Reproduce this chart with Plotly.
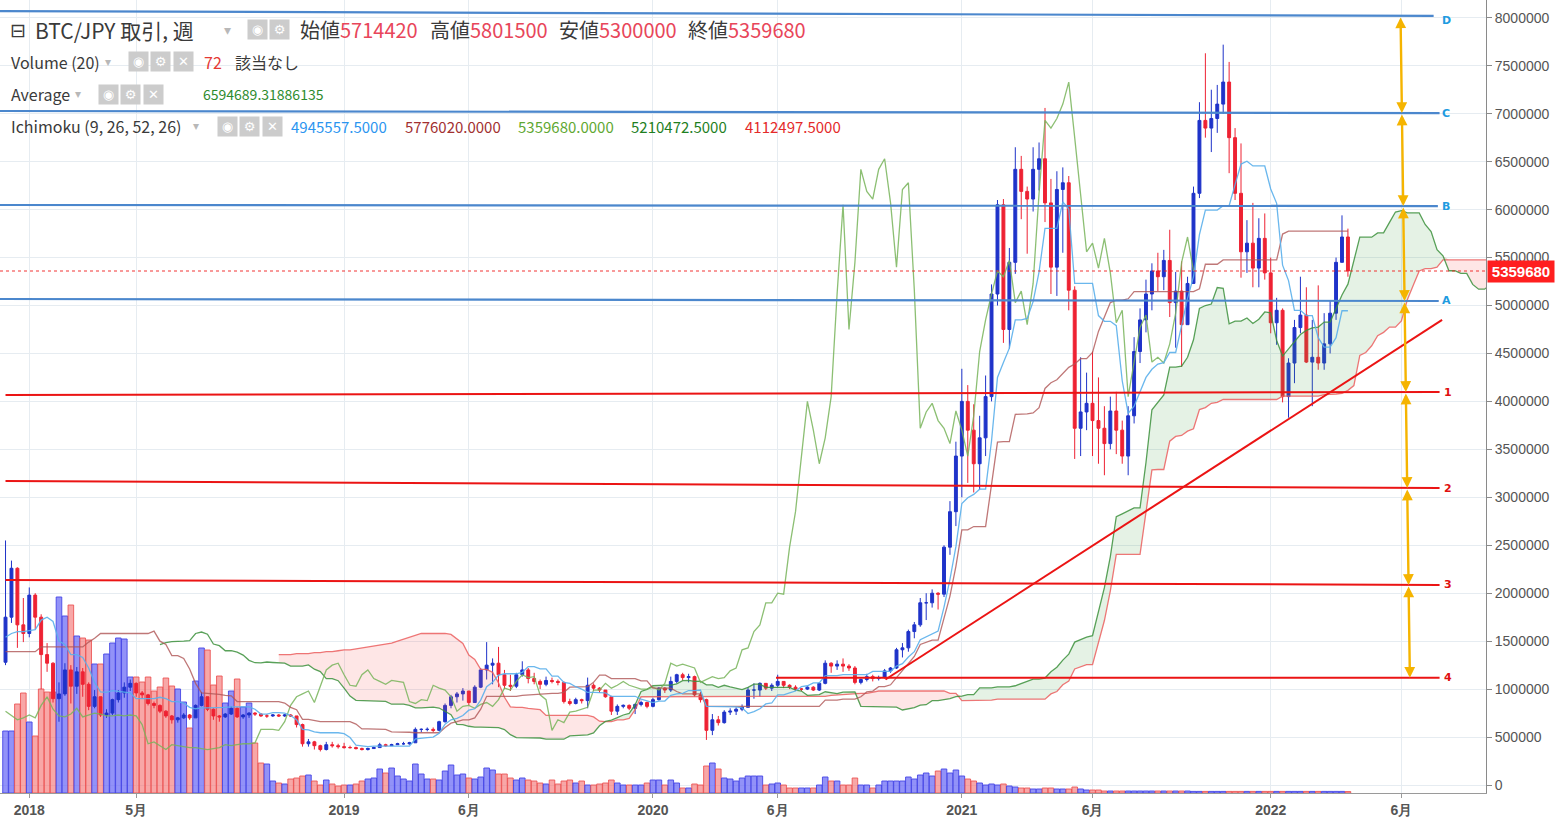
import numpy as np
import pandas as pd
import plotly.graph_objects as go

MAN = 10000  # price lists below are in 万円

# weekly BTC/JPY candles, first bar = week of 2017-12-04
first_week = "2017-12-04"
first_open = 128
close = [
    175, 226, 167, 158, 198, 175, 136, 127, 90, 95,
    120, 103, 118, 105, 82, 92, 73, 75, 89, 96,
    102, 106, 96, 94, 85, 83, 77, 72, 68, 70,
    73, 70, 83, 92, 79, 72, 71, 74, 80, 71,
    73, 75, 74, 72, 72, 73, 72, 73, 72, 63,
    43, 45, 41, 37, 42, 41, 40, 39, 39, 38,
    37, 38, 39, 42, 41, 42, 43, 43, 44, 58,
    58, 58, 57, 66, 83, 92, 95, 98, 86, 102,
    120, 125, 127, 115, 104, 103, 115, 120, 111, 108,
    105, 109, 108, 107, 87, 85, 89, 88, 104, 101,
    99, 92, 77, 82, 83, 80, 84, 86, 82, 89,
    101, 99, 108, 115, 112, 113, 94, 89, 57, 68,
    65, 76, 77, 79, 81, 99, 99, 106, 101, 104,
    108, 104, 102, 100, 100, 102, 99, 106, 127, 124,
    126, 124, 122, 107, 110, 113, 111, 112, 119, 122,
    141, 143, 160, 167, 190, 190, 200, 199, 248, 285,
    343, 400, 370, 335, 362, 405, 512, 605, 475, 545,
    642, 619, 611, 642, 653, 607, 540, 621, 628, 516,
    372, 389, 398, 380, 372, 356, 390, 370, 343, 385,
    452, 485, 512, 536, 530, 547, 503, 515, 480, 523,
    617, 693, 685, 695, 710, 733, 675, 617, 556, 565,
    539, 570, 534, 482, 495, 405, 440, 477, 490, 441,
    446, 440, 460, 492, 545, 571.442, 535.968,
]
high = [
    255, 234, 227, 195, 206, 200, 178, 148, 128, 107,
    127, 125, 123, 122, 107, 99, 92, 79, 90, 99,
    107, 110, 107, 98, 95, 87, 84, 78, 73, 71,
    75, 74, 84, 97, 92, 80, 73, 75, 82, 81,
    74, 76, 76, 75, 74, 74, 74, 74, 74, 72,
    64, 48, 46, 42, 45, 45, 43, 44, 41, 40,
    39, 39, 40, 44, 43, 43, 44, 45, 45, 60,
    59, 60, 60, 67, 85, 94, 97, 101, 97, 104,
    122, 149, 132, 144, 120, 115, 117, 129, 122, 117,
    110, 113, 112, 110, 108, 90, 91, 90, 112, 106,
    102, 99, 93, 84, 84, 84, 85, 88, 87, 91,
    102, 102, 113, 116, 117, 116, 114, 97, 90, 74,
    72, 78, 80, 81, 84, 102, 106, 107, 106, 106,
    115, 108, 105, 104, 101, 103, 103, 107, 130, 128,
    130, 132, 126, 124, 111, 116, 115, 114, 121, 123,
    143, 148, 162, 170, 195, 200, 204, 201, 250, 296,
    358, 434, 417, 397, 385, 427, 522, 610, 611, 560,
    665, 656, 624, 665, 670, 706, 632, 640, 644, 635,
    520, 446, 430, 452, 425, 395, 405, 410, 380, 395,
    467, 497, 527, 544, 555, 558, 579, 535, 546, 530,
    624, 712, 763, 725, 730, 772, 754, 685, 669, 589,
    607, 591, 596, 550, 508, 497, 445, 485, 530, 519,
    485, 521, 492, 505, 550, 594, 580.15,
]
low = [
    125, 169, 143, 149, 154, 162, 100, 118, 86, 66,
    93, 85, 95, 92, 78, 80, 71, 70, 73, 86,
    91, 98, 92, 90, 83, 80, 75, 70, 64, 65,
    69, 68, 70, 82, 77, 68, 66, 70, 73, 70,
    69, 70, 72, 71, 70, 71, 71, 71, 71, 60,
    40, 40, 37, 35, 36, 39, 38, 38, 38, 37,
    36, 36, 38, 39, 40, 41, 42, 42, 42, 44,
    55, 56, 55, 56, 65, 80, 86, 88, 83, 86,
    101, 110, 105, 102, 100, 98, 101, 113, 106, 105,
    100, 103, 106, 104, 85, 83, 84, 85, 80, 98,
    96, 91, 73, 73, 80, 78, 74, 82, 80, 81,
    88, 96, 97, 106, 109, 107, 92, 86, 47, 52,
    62, 64, 73, 73, 77, 81, 90, 92, 99, 98,
    102, 101, 100, 98, 98, 99, 98, 98, 105, 117,
    120, 118, 119, 105, 105, 108, 108, 109, 111, 117,
    121, 133, 139, 153, 165, 172, 185, 183, 196, 240,
    270, 300, 315, 305, 308, 343, 400, 500, 461, 455,
    533, 590, 554, 598, 620, 587, 512, 510, 555, 495,
    340, 343, 370, 343, 335, 323, 350, 345, 335, 323,
    377, 440, 472, 495, 515, 516, 488, 456, 436, 480,
    523, 612, 675, 660, 680, 700, 638, 610, 529, 534,
    519, 519, 527, 471, 459, 399, 383, 419, 471, 440,
    395, 433, 433, 450, 485, 545, 530,
]
volume = [
    3100, 3100, 4450, 5000, 3550, 2850, 5200, 5050, 5050, 9800,
    8850, 9400, 7850, 7750, 7650, 6450, 6450, 6950, 7500, 7750,
    7700, 5800, 5800, 5550, 5800, 5100, 5300, 5750, 5350, 5200,
    4550, 3250, 5600, 7250, 7150, 5400, 5850, 4500, 5100, 5700,
    4300, 4500, 2500, 1500, 1450, 600, 500, 450, 700, 750,
    850, 900, 600, 400, 650, 450, 350, 400, 400, 450,
    600, 700, 750, 1200, 1000, 1250, 850, 700, 600, 1450,
    950, 700, 700, 650, 1100, 1400, 900, 950, 750, 700,
    800, 1250, 1150, 950, 950, 750, 650, 750, 650, 600,
    500, 450, 650, 450, 600, 650, 500, 600, 400, 400,
    450, 500, 650, 500, 400, 400, 400, 400, 500, 650,
    650, 400, 650, 500, 250, 250, 450, 400, 1350, 1500,
    1200, 750, 700, 600, 750, 850, 850, 850, 400, 450,
    500, 400, 250, 250, 250, 250, 250, 400, 800, 600,
    600, 400, 400, 750, 400, 400, 250, 400, 600, 600,
    600, 600, 800, 700, 900, 1000, 850, 1100, 1200, 1000,
    1150, 850, 700, 600, 500, 400, 450, 400, 450, 350,
    300, 250, 250, 200, 200, 250, 250, 200, 200, 200,
    300, 200, 150, 150, 150, 100, 100, 100, 100, 100,
    100, 100, 100, 100, 100, 100, 100, 100, 100, 100,
    80, 80, 80, 80, 80, 80, 80, 80, 80, 80,
    80, 80, 80, 80, 80, 80, 80, 80, 80, 80,
    80, 80, 80, 80, 80, 80, 72,
]

# Ichimoku lines for the first weeks (their history lies before the first bar)
tenkan_early = [154, 158, 160, 160, 161, 162, 172, 175]
kijun_early = [139, 139, 139, 139, 139, 139, 144, 144, 144, 144, 144, 144, 144, 144,
               149, 153, 158, 158, 158, 158, 158, 158, 158, 158, 158]
senkou_b_early_start = 46
senkou_b_early = [136, 136, 136, 137, 137, 137, 138, 138, 139, 139, 140, 141, 141, 142,
                  143, 144, 145, 146, 147, 148, 150, 152, 154, 156, 158, 158, 158, 158,
                  158, 157, 152]

tick_dates = ["2018-01-01", "2018-05-07", "2019-01-07", "2019-06-03", "2020-01-06",
              "2020-06-01", "2021-01-04", "2021-06-07", "2022-01-03", "2022-06-06"]
tick_text = ["2018", "5月", "2019", "6月", "2020", "6月", "2021", "6月", "2022", "6月"]
price_ticks = list(range(0, 8000001, 500000))

# hand-drawn levels
blue_names = ["A", "B", "C", "D"]
blue_left = [5068000, 6048000, 7028000, 8070000]
blue_right = [5047000, 6037000, 7007000, 8020000]
blue_from = "2017-11-27"
blue_to = ["2022-07-20", "2022-07-19", "2022-07-21", "2022-07-14"]

red_names = ["1", "2", "3", "4"]
red_left = [4067000, 3170000, 2138000, 1118000]
red_right = [4098000, 3097000, 2086000, 1118000]
red_from = ["2017-12-04", "2017-12-04", "2017-12-04", "2020-05-30"]
red_to = "2022-07-21"

trend_dates = ["2020-10-06", "2022-07-24"]
trend_values = [1100000, 4850000]

measure_dates = ["2022-06-05", "2022-06-16"]   # top and bottom of the yellow ruler
label_date = "2022-07-29"

header_pairs = [("始値", "5714420"), ("高値", "5801500"), ("安値", "5300000"), ("終値", "5359680")]
volume_text = "72"
average_text = "6594689.31886135"
ichimoku_text = ["4945557.5000", "5776020.0000", "5359680.0000", "5210472.5000", "4112497.5000"]

# ---------------------------------------------------------------
n = len(close)
if not (len(high) == len(low) == len(volume) == n):
    raise ValueError("length mismatch %d %d %d %d" % (n, len(high), len(low), len(volume)))

dates = pd.date_range(first_week, periods=n, freq="7D")
lead_dates = pd.date_range(first_week, periods=n + 26, freq="7D")

c = np.array(close, float) * MAN
o = np.array([first_open] + close[:-1], float) * MAN
h = np.maximum(np.array(high, float) * MAN, np.maximum(o, c))
l = np.minimum(np.array(low, float) * MAN, np.minimum(o, c))
up = c >= o

H = pd.Series(h)
L = pd.Series(l)
tenkan = ((H.rolling(9).max() + L.rolling(9).min()) / 2).values
kijun = ((H.rolling(26).max() + L.rolling(26).min()) / 2).values
mid52 = ((H.rolling(52).max() + L.rolling(52).min()) / 2).values
tenkan[:len(tenkan_early)] = np.array(tenkan_early) * MAN
kijun[:len(kijun_early)] = np.array(kijun_early) * MAN

span_a = np.full(n + 26, np.nan)
span_b = np.full(n + 26, np.nan)
span_a[26:] = (tenkan + kijun) / 2
span_b[26:] = mid52
s0 = senkou_b_early_start
span_b[s0:s0 + len(senkou_b_early)] = np.array(senkou_b_early) * MAN

BLUE_C = "#1f33c9"
RED_C = "#ee2233"

fig = go.Figure()

fig.add_trace(go.Bar(
    x=dates, y=volume, yaxis="y",
    marker=dict(color=np.where(up, "rgba(110,110,245,0.75)", "rgba(245,120,120,0.65)"),
                line=dict(color=np.where(up, "rgba(70,70,230,0.9)", "rgba(235,80,80,0.85)"), width=1)),
    hoverinfo="skip"))

# cloud
both = ~np.isnan(span_a) & ~np.isnan(span_b)
cd = lead_dates[both]
ca = span_a[both]
cb = span_b[both]
fig.add_trace(go.Scatter(x=cd, y=cb, yaxis="y2", mode="lines", line=dict(width=0), hoverinfo="skip"))
fig.add_trace(go.Scatter(x=cd, y=np.where(ca > cb, ca, cb), yaxis="y2", mode="lines",
                         line=dict(width=0), fill="tonexty", fillcolor="rgba(70,160,70,0.14)",
                         hoverinfo="skip"))
fig.add_trace(go.Scatter(x=cd, y=ca, yaxis="y2", mode="lines", line=dict(width=0), hoverinfo="skip"))
fig.add_trace(go.Scatter(x=cd, y=np.where(cb > ca, cb, ca), yaxis="y2", mode="lines",
                         line=dict(width=0), fill="tonexty", fillcolor="rgba(245,90,90,0.15)",
                         hoverinfo="skip"))

fig.add_trace(go.Scatter(x=lead_dates, y=span_b, yaxis="y2", mode="lines",
                         line=dict(color="rgba(235,95,95,0.85)", width=1.3), hoverinfo="skip"))
fig.add_trace(go.Scatter(x=lead_dates, y=span_a, yaxis="y2", mode="lines",
                         line=dict(color="rgba(60,145,60,0.85)", width=1.3), hoverinfo="skip"))
fig.add_trace(go.Scatter(x=dates[:n - 26], y=c[26:], yaxis="y2", mode="lines",
                         line=dict(color="rgba(120,180,90,0.85)", width=1.3), hoverinfo="skip"))
fig.add_trace(go.Scatter(x=dates, y=kijun, yaxis="y2", mode="lines",
                         line=dict(color="rgba(175,85,85,0.8)", width=1.3), hoverinfo="skip"))
fig.add_trace(go.Scatter(x=dates, y=tenkan, yaxis="y2", mode="lines",
                         line=dict(color="rgba(90,175,235,0.9)", width=1.3), hoverinfo="skip"))

fig.add_trace(go.Candlestick(
    x=dates, open=o, high=h, low=l, close=c, yaxis="y2",
    increasing=dict(line=dict(color=BLUE_C, width=1), fillcolor=BLUE_C),
    decreasing=dict(line=dict(color=RED_C, width=1), fillcolor=RED_C),
    hoverinfo="skip"))

# drawn levels
for name, v0, v1, end in zip(blue_names, blue_left, blue_right, blue_to):
    fig.add_trace(go.Scatter(x=[blue_from, end], y=[v0, v1], yaxis="y2", mode="lines",
                             line=dict(color="rgb(75,135,205)", width=2.2), hoverinfo="skip"))
for name, v0, v1, start in zip(red_names, red_left, red_right, red_from):
    fig.add_trace(go.Scatter(x=[start, red_to], y=[v0, v1], yaxis="y2", mode="lines",
                             line=dict(color="rgb(235,20,20)", width=2), hoverinfo="skip"))
fig.add_trace(go.Scatter(x=trend_dates, y=trend_values, yaxis="y2", mode="lines",
                         line=dict(color="rgb(235,20,20)", width=2), hoverinfo="skip"))

annotations = []

# yellow ruler between the levels
stops = sorted(blue_right + red_right, reverse=True)
t_top = pd.Timestamp(measure_dates[0])
t_bot = pd.Timestamp(measure_dates[1])


def ruler_x(v):
    f = (stops[0] - v) / (stops[0] - stops[-1])
    return (t_top + (t_bot - t_top) * f).strftime("%Y-%m-%d %H:%M")


for v_hi, v_lo in zip(stops[:-1], stops[1:]):
    annotations.append(dict(x=ruler_x(v_lo), y=v_lo, ax=ruler_x(v_hi), ay=v_hi,
                            xref="x", yref="y2", axref="x", ayref="y2", text="",
                            showarrow=True, arrowhead=2, arrowside="end+start",
                            arrowsize=0.9, arrowwidth=2.4, arrowcolor="#f5b400"))

for name, v in zip(blue_names, blue_right):
    annotations.append(dict(x=label_date, y=v, xref="x", yref="y2", text="<b>%s</b>" % name,
                            showarrow=False, yshift=-5 if name == "D" else 0,
                            font=dict(size=11, color="#1e9be0", family="DejaVu Sans")))
for name, v in zip(red_names, red_right):
    annotations.append(dict(x=label_date, y=v, xref="x", yref="y2", text="<b>%s</b>" % name,
                            showarrow=False, xshift=2,
                            font=dict(size=11, color="#e01010", family="DejaVu Sans")))

# last price tag
last = c[-1]
annotations.append(dict(x=1, y=last, xref="paper", yref="y2", xanchor="left", yanchor="middle",
                        text="<b>%d</b>" % round(last), showarrow=False, bgcolor="#ff1f1f",
                        font=dict(size=15, color="white", family="Liberation Sans"),
                        width=64, height=19, xshift=1))

# header legend
PW, PH = 1486.0, 793.0
FONT = "Noto Sans CJK JP, sans-serif"
DARK = "#3a3a3a"


def head(px, py, text, size, color=DARK, family=FONT, **kw):
    d = dict(x=px / PW, y=1 - py / PH, xref="paper", yref="paper", xanchor="left",
             yanchor="middle", text=text, showarrow=False,
             font=dict(size=size, color=color, family=family))
    d.update(kw)
    annotations.append(d)


def icons(xs, py):
    for px, glyph in xs:
        head(px, py, glyph, 13, color="white", family="DejaVu Sans", bgcolor="#cccccc",
             width=17, height=17)


head(8, 30, "⊟", 19, family="DejaVu Sans")
head(33, 30, "BTC/JPY 取引, 週", 21)
head(222, 30, "▾", 14, color="#b8b8b8", family="DejaVu Sans")
icons([(247, "◉"), (269, "⚙")], 30)
for (lab, val), px in zip(header_pairs, [298, 428, 557, 686]):
    head(px, 30, lab + '<span style="color:#e8465a">' + val + "</span>", 20)

head(9, 62, "Volume (20)", 16)
head(103, 62, "▾", 12, color="#b8b8b8", family="DejaVu Sans")
icons([(128, "◉"), (150, "⚙"), (173, "✕")], 62)
head(202, 62, volume_text, 16, color="#e53935")
head(233, 62, "該当なし", 16)

head(9, 94, "Average", 16)
head(73, 94, "▾", 12, color="#b8b8b8", family="DejaVu Sans")
icons([(98, "◉"), (120, "⚙"), (143, "✕")], 94)
head(201, 94, average_text, 14, color="#2e8b2e")

head(9, 126, "Ichimoku (9, 26, 52, 26)", 16)
head(191, 126, "▾", 12, color="#b8b8b8", family="DejaVu Sans")
icons([(217, "◉"), (239, "⚙"), (262, "✕")], 126)
ichi_colors = ["#2b95f0", "#a23030", "#5fa832", "#1f7f1f", "#e42a2a"]
for txt, col, px in zip(ichimoku_text, ichi_colors, [289, 403, 516, 629, 743]):
    head(px, 126, txt, 15, color=col)

GRID = "#e6ecf1"
fig.update_layout(
    width=1556, height=824,
    margin=dict(l=0, r=70, t=0, b=31),
    paper_bgcolor="white", plot_bgcolor="white",
    showlegend=False, bargap=0.06,
    annotations=annotations,
    shapes=[dict(type="line", xref="paper", x0=0, x1=1, yref="y2", y0=last, y1=last,
                 line=dict(color="rgba(240,30,30,0.9)", width=1, dash="dot"))],
    xaxis=dict(type="date", range=["2017-11-27 12:00", "2022-09-13 17:00"],
               tickvals=tick_dates, ticktext=["<b>%s</b>" % t for t in tick_text],
               tickfont=dict(size=14, color="#555555", family="Liberation Sans"),
               showgrid=True, gridcolor=GRID, showline=True, linecolor="#9a9a9a",
               ticks="outside", ticklen=4, tickcolor="#9a9a9a",
               rangeslider=dict(visible=False), zeroline=False),
    yaxis=dict(range=[0, 39650], visible=False, fixedrange=True),
    yaxis2=dict(overlaying="y", side="right", range=[-83400, 8185600],
                tickvals=price_ticks, ticktext=[str(v) for v in price_ticks],
                tickfont=dict(size=14, color="#555555", family="Liberation Sans"),
                showgrid=True, gridcolor=GRID, showline=True, linecolor="#8a8a8a",
                ticks="outside", ticklen=5, tickcolor="#8a8a8a", zeroline=False),
)

fig.write_html("out.html", config={"displayModeBar": False},
               post_script="document.body.style.margin='0';")
